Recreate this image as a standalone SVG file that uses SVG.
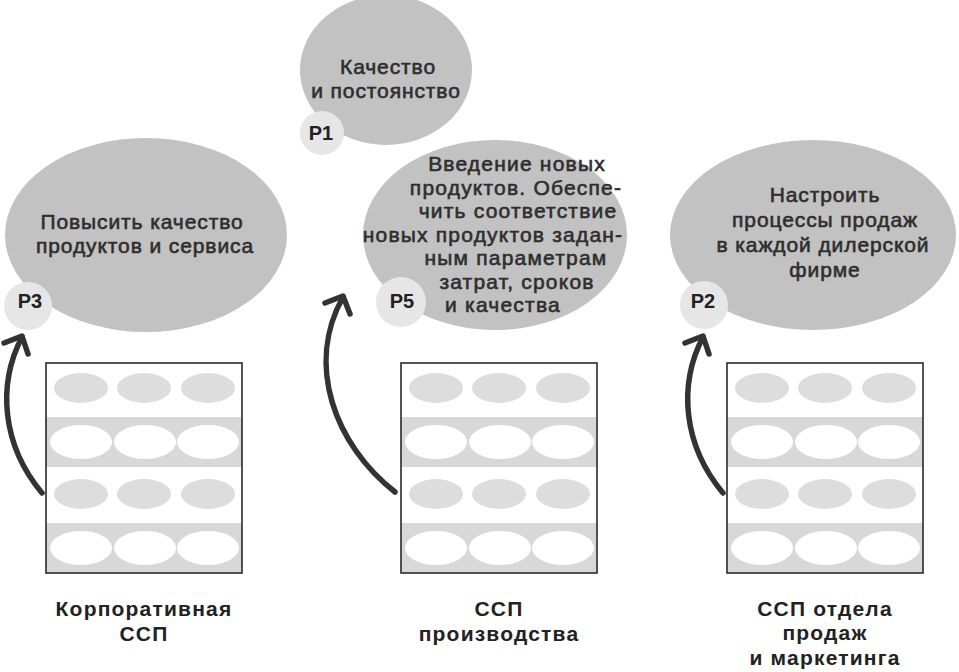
<svg xmlns="http://www.w3.org/2000/svg" xmlns:xlink="http://www.w3.org/1999/xlink" width="959" height="672" viewBox="0 0 959 672">
<style>
.goal{fill:#c2c2c2}
.tag{fill:#e6e6e6}
.gt{font-family:"Liberation Sans",Arial,sans-serif;font-size:21px;letter-spacing:0.9px;fill:#2e2e2e;stroke:#2e2e2e;stroke-width:0.6;text-anchor:middle}
.p5{letter-spacing:1.2px}
.pt{font-family:"Liberation Sans",Arial,sans-serif;font-size:20px;font-weight:700;fill:#222;text-anchor:middle}
.lb{font-family:"Liberation Sans",Arial,sans-serif;font-size:21px;font-weight:700;letter-spacing:1.2px;fill:#222;text-anchor:middle}
.band{fill:#d8d8d8}
.dot{fill:#dddddd}
.hole{fill:#ffffff}
.frame{fill:none;stroke:#2a2a2a;stroke-width:1.6}
.arr{fill:none;stroke:#333;stroke-width:5.5;stroke-linecap:round;stroke-linejoin:round}
</style>
<defs>
<g id="card">
<rect x="0" y="0" width="196" height="210" fill="#fff"/>
<ellipse class="dot" cx="35" cy="25" rx="27" ry="15"/>
<ellipse class="dot" cx="98" cy="25" rx="27" ry="15"/>
<ellipse class="dot" cx="162" cy="25" rx="27" ry="15"/>
<rect class="band" x="0" y="54" width="196" height="50"/>
<ellipse class="hole" cx="35" cy="79" rx="31" ry="17"/>
<ellipse class="hole" cx="99" cy="79" rx="31" ry="17"/>
<ellipse class="hole" cx="162" cy="79" rx="31" ry="17"/>
<ellipse class="dot" cx="35" cy="131" rx="27" ry="15"/>
<ellipse class="dot" cx="98" cy="131" rx="27" ry="15"/>
<ellipse class="dot" cx="162" cy="131" rx="27" ry="15"/>
<rect class="band" x="0" y="160" width="196" height="50"/>
<ellipse class="hole" cx="35" cy="185" rx="31" ry="17"/>
<ellipse class="hole" cx="99" cy="185" rx="31" ry="17"/>
<ellipse class="hole" cx="162" cy="185" rx="31" ry="17"/>
<rect class="frame" x="0" y="0" width="196" height="210"/>
</g>
</defs>
<rect width="959" height="672" fill="#fff"/>

<g id="goal-p1">
<ellipse class="goal" cx="386" cy="70" rx="86" ry="75"/>
<circle class="tag" cx="322" cy="133" r="22"/>
<text class="gt"><tspan x="388" y="74">Качество</tspan><tspan x="386" y="98">и постоянство</tspan></text>
<text class="pt" x="321" y="140">P1</text>
</g>

<g id="goal-p3">
<ellipse class="goal" cx="146" cy="235" rx="141" ry="97"/>
<circle class="tag" cx="28" cy="306" r="24"/>
<text class="gt"><tspan x="142" y="229">Повысить качество</tspan><tspan x="145" y="253">продуктов и сервиса</tspan></text>
<text class="pt" x="30" y="308">P3</text>
</g>

<g id="goal-p5">
<ellipse class="goal" cx="495" cy="235" rx="132" ry="95"/>
<circle class="tag" cx="401" cy="302" r="25"/>
<text class="gt p5"><tspan x="517" y="171">Введение новых</tspan><tspan x="516" y="194.5">продуктов. Обеспе-</tspan><tspan x="518" y="218">чить соответствие</tspan><tspan x="493" y="241.5">новых продуктов задан-</tspan><tspan x="516" y="265">ным параметрам</tspan><tspan x="517" y="288.5">затрат, сроков</tspan><tspan x="503" y="312">и качества</tspan></text>
<text class="pt" x="402" y="308">P5</text>
</g>

<g id="goal-p2">
<ellipse class="goal" cx="813" cy="235" rx="143" ry="95"/>
<circle class="tag" cx="704" cy="305" r="24"/>
<text class="gt"><tspan x="825" y="202">Настроить</tspan><tspan x="825" y="227">процессы продаж</tspan><tspan x="823" y="252">в каждой дилерской</tspan><tspan x="825" y="277">фирме</tspan></text>
<text class="pt" x="703" y="308">P2</text>
</g>

<g id="bsc-corporate">
<use xlink:href="#card" x="46" y="363"/>
<text class="lb"><tspan x="144" y="616">Корпоративная</tspan><tspan x="144" y="641">ССП</tspan></text>
</g>

<g id="bsc-production">
<use xlink:href="#card" x="401" y="363"/>
<text class="lb"><tspan x="499" y="616">ССП</tspan><tspan x="499" y="641">производства</tspan></text>
</g>

<g id="bsc-sales">
<use xlink:href="#card" x="727" y="363"/>
<text class="lb"><tspan x="825" y="616">ССП отдела</tspan><tspan x="825" y="640">продаж</tspan><tspan x="825" y="665">и маркетинга</tspan></text>
</g>

<g id="connectors">
<path class="arr" d="M42,493 C2,445 -3,385 22,337"/>
<path class="arr" d="M4,343 L22,336 L28,354"/>
<path class="arr" d="M395,492 C335,445 305,365 343,297"/>
<path class="arr" d="M325,303 L343,296 L350,314"/>
<path class="arr" d="M723,493 C683,445 678,385 703,337"/>
<path class="arr" d="M685,343 L703,336 L709,354"/>
</g>
</svg>
